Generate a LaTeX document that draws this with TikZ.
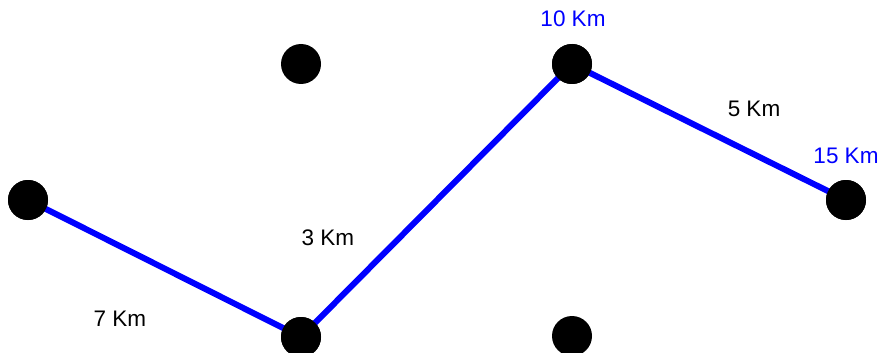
\documentclass[tikz,border=0pt]{standalone}
\usepackage{fontspec}
\setmainfont{Liberation Sans}
\begin{document}
\begin{tikzpicture}[x=1pt,y=-1pt,
  dot/.style={circle,fill=black,minimum size=40pt,inner sep=0pt},
  route/.style={draw=blue,line width=6pt},
  lbl/.style={font=\fontsize{22.5}{26}\selectfont,text=black},
  blbl/.style={font=\fontsize{22.5}{26}\selectfont,text=blue}]
\useasboundingbox (0,0) rectangle (881,353);
\node[dot] (a) at (28,200) {};
\node[dot] (b) at (301,64) {};
\node[dot] (c) at (301,337) {};
\node[dot] (d) at (572,64) {};
\node[dot] (e) at (572,336) {};
\node[dot] (f) at (846,200) {};
\draw[route] (a.center) -- (c.center) -- (d.center) -- (f.center);
\node[dot] at (a) {};
\node[dot] at (c) {};
\node[dot] at (d) {};
\node[dot] at (f) {};
\node[lbl] (l7) at (120,319) {7 Km};
\node[lbl] (l3) at (328,238) {3 Km};
\node[lbl] (l5) at (754,109) {5 Km};
\node[blbl] (l10) at (573,19) {10 Km};
\node[blbl] (l15) at (846,156) {15 Km};
\end{tikzpicture}
\end{document}
